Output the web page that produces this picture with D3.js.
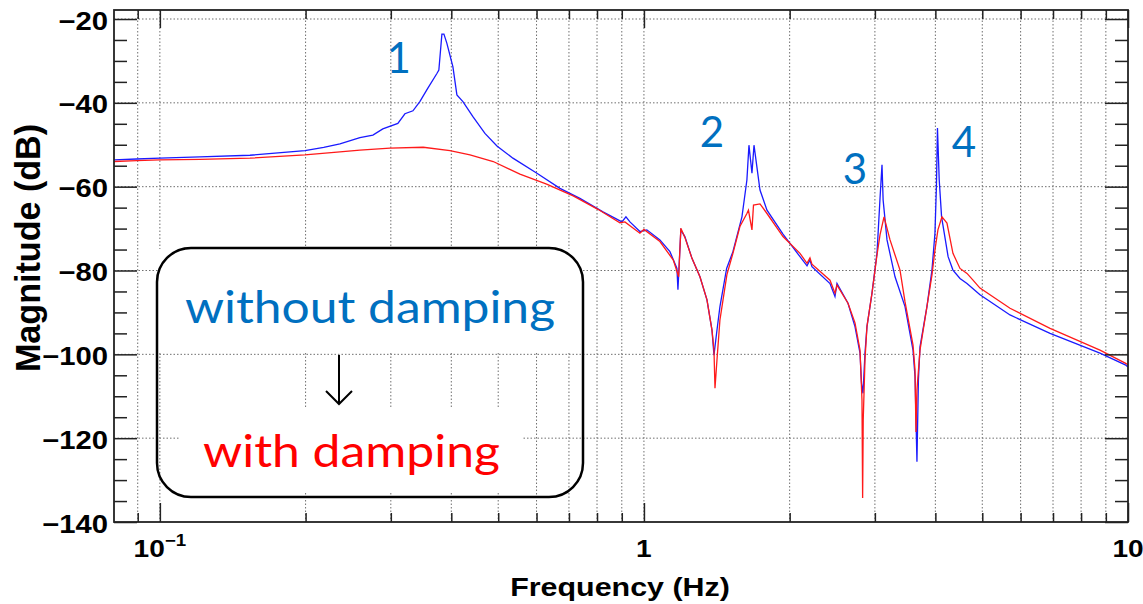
<!DOCTYPE html>
<html>
<head>
<meta charset="utf-8">
<script src="https://cdn.jsdelivr.net/npm/d3@7"></script>
<style>
  body { margin: 0; background: #fff; }
</style>
</head>
<body>
<svg id="drawspace" width="1143" height="604"></svg>
<script>
// transfer function magnitude, Hz / dB
const blueFreq = [0.0804, 0.0896, 0.1, 0.121, 0.1535, 0.1994, 0.218, 0.2355, 0.259, 0.2755,
  0.2888, 0.3102, 0.3208, 0.3333, 0.3444, 0.3578, 0.3735, 0.377, 0.3825, 0.3862,
  0.3917, 0.4031, 0.4108, 0.4227, 0.4433, 0.4694, 0.497, 0.5362, 0.6011, 0.6707,
  0.7375, 0.8229, 0.9006, 0.918, 0.9356, 0.981, 1.014, 1.079, 1.1317, 1.17,
  1.1756, 1.192, 1.215, 1.2567, 1.3054, 1.3497, 1.3822, 1.3954, 1.4155, 1.4355,
  1.482, 1.527, 1.594, 1.632, 1.648, 1.6717, 1.688, 1.7368, 1.7955, 1.9375,
  2.1008, 2.172, 2.2029, 2.2238, 2.4231, 2.4813, 2.5053, 2.6397, 2.729, 2.795,
  2.815, 2.835, 2.862, 2.889, 2.959, 3.03, 3.074, 3.1032, 3.12, 3.178,
  3.3014, 3.4624, 3.5966, 3.6308, 3.6644, 3.69, 3.718, 3.8427, 3.9355, 3.9921,
  4.02, 4.04, 4.074, 4.12, 4.25, 4.349, 4.497, 4.649, 4.9455, 5.7051,
  6.9024, 8.752, 9.87, 10];
const blueMag = [-53.6, -53.4, -53.2, -52.9, -52.5, -51.4, -50.6, -49.8, -48.3, -47.7,
  -46.2, -44.9, -42.6, -41.9, -39.7, -36.5, -33.0, -32.2, -23.6, -23.6,
  -25.8, -31.4, -38.1, -39.7, -43.3, -47.3, -50.3, -53.2, -56.8, -60.4,
  -62.8, -66.0, -68.4, -67.2, -68.4, -70.7, -70.3, -72.7, -75.5, -79.5,
  -84.6, -70.3, -71.9, -77.1, -81.5, -87.0, -94.2, -100.2, -94.2, -88.6,
  -79.5, -75.5, -67.2, -58.4, -50.1, -56.8, -50.1, -60.8, -65.6, -71.3,
  -76.7, -78.9, -77.5, -79.1, -83.1, -86.2, -83.1, -87.8, -93.4, -99.7,
  -106.9, -109.3, -99.7, -93.4, -85.4, -75.9, -62.8, -54.8, -63.2, -72.7,
  -81.5, -88.6, -99.0, -105.3, -125.6, -106.1, -98.2, -88.6, -79.9, -71.1,
  -60.0, -46.0, -58.4, -67.2, -76.7, -79.9, -81.9, -83.1, -85.8, -90.6,
  -95.0, -99.7, -102.5, -103.0];

const redFreq = [0.0804, 0.0896, 0.1, 0.121, 0.1535, 0.1994, 0.2355, 0.259, 0.2987, 0.35,
  0.3975, 0.4372, 0.4883, 0.5544, 0.6295, 0.7143, 0.8035, 0.892, 0.9136, 0.981,
  1.0, 1.079, 1.15, 1.1797, 1.192, 1.215, 1.2567, 1.3054, 1.3497, 1.3822,
  1.3954, 1.4021, 1.4155, 1.4355, 1.484, 1.527, 1.5786, 1.632, 1.644, 1.6717,
  1.684, 1.7368, 1.7955, 1.9375, 2.1008, 2.172, 2.2029, 2.2238, 2.4231, 2.4813,
  2.5053, 2.6397, 2.729, 2.795, 2.8213, 2.83, 2.838, 2.862, 2.889, 2.959,
  3.03, 3.074, 3.1333, 3.224, 3.3806, 3.4624, 3.5966, 3.6308, 3.6475, 3.6644,
  3.718, 3.8427, 3.9355, 3.9921, 4.049, 4.1272, 4.2267, 4.349, 4.497, 4.6493,
  4.7841, 4.9455, 5.7051, 6.9024, 8.752, 9.87, 10];
const redMag = [-54.0, -53.8, -53.6, -53.5, -53.2, -52.4, -51.7, -51.3, -50.8, -50.6,
  -51.4, -52.4, -54.0, -57.0, -59.4, -62.2, -65.4, -68.6, -68.4, -71.1,
  -70.2, -73.1, -77.5, -81.5, -69.9, -72.1, -77.1, -81.5, -87.0, -94.2,
  -99.0, -108.1, -101.3, -91.8, -81.0, -75.9, -69.5, -66.4, -65.6, -70.3,
  -64.4, -64.1, -66.4, -71.9, -75.9, -78.3, -77.0, -78.5, -82.3, -85.4,
  -83.5, -87.8, -92.5, -99.0, -110.9, -134.3, -115.7, -101.3, -93.4, -85.4,
  -76.3, -71.5, -67.2, -72.7, -79.9, -87.5, -97.8, -103.7, -118.5, -108.5,
  -99.0, -88.6, -81.1, -75.1, -70.3, -67.2, -68.7, -75.9, -79.5, -80.7,
  -82.3, -84.2, -89.0, -93.8, -99.0, -102.1, -102.5];

const yMajorTicks = [-140, -120, -100, -80, -60, -40, -20];
const xMajorTicks = [0.1, 1, 10];
const xMinorTicks = [0.09, 0.2, 0.3, 0.4, 0.5, 0.6, 0.7, 0.8, 0.9, 2, 3, 4, 5, 6, 7, 8, 9];
const peakNames = ["1", "2", "3", "4"];

let drawSpace = d3.select("#drawspace");

// frame of the plot
let frameL = 114, frameR = 1128, frameT = 10, frameB = 522;

let xScale = d3.scaleLog().domain([0.0804, 10]).range([frameL, frameR]);
let yScale = d3.scaleLinear().domain([-140, -17.85]).range([frameB, frameT]);

let sx = 1.17; // the original picture is a bit stretched sideways

// grid
drawSpace.append("g")
  .selectAll("line")
  .data(xMajorTicks.concat(xMinorTicks).filter((d) => d < 10))
  .join("line")
  .attr("x1", (d) => xScale(d))
  .attr("x2", (d) => xScale(d))
  .attr("y1", frameT)
  .attr("y2", frameB)
  .attr("stroke", "#6f6f6f")
  .attr("stroke-width", 1)
  .attr("stroke-dasharray", "1.5,2");

drawSpace.append("g")
  .selectAll("line")
  .data(yMajorTicks.filter((d) => d > -140))
  .join("line")
  .attr("x1", frameL)
  .attr("x2", frameR)
  .attr("y1", (d) => yScale(d))
  .attr("y2", (d) => yScale(d))
  .attr("stroke", "#6f6f6f")
  .attr("stroke-width", 1)
  .attr("stroke-dasharray", "1.5,2");

// curves
drawSpace.append("clipPath")
  .attr("id", "frameclip")
  .append("rect")
  .attr("x", frameL)
  .attr("y", frameT)
  .attr("width", frameR - frameL)
  .attr("height", frameB - frameT);

let line = d3.line()
  .x((d) => xScale(d[0]))
  .y((d) => yScale(d[1]));

let blueData = blueFreq.map((f, i) => [f, blueMag[i]]);
let redData = redFreq.map((f, i) => [f, redMag[i]]);

drawSpace.append("path")
  .datum(blueData)
  .attr("clip-path", "url(#frameclip)")
  .attr("fill", "none")
  .attr("stroke", "#1a1aff")
  .attr("stroke-width", 1.3)
  .attr("d", line);

drawSpace.append("path")
  .datum(redData)
  .attr("clip-path", "url(#frameclip)")
  .attr("fill", "none")
  .attr("stroke", "#ff1a1a")
  .attr("stroke-width", 1.3)
  .attr("d", line);

// ticks on all four sides, pointing inwards
let yMinorTicks = d3.range(-135, -19, 5).filter((d) => d % 20 !== 0);

function tickAxis(axis, transform) {
  let g = drawSpace.append("g").attr("transform", transform).call(axis);
  g.select(".domain").remove();
  g.selectAll("line").attr("stroke", "#222").attr("stroke-width", 1.5);
  return g;
}

tickAxis(d3.axisLeft(yScale).tickValues(yMajorTicks).tickSize(-23).tickFormat(""), `translate(${frameL},0)`);
tickAxis(d3.axisLeft(yScale).tickValues(yMinorTicks).tickSize(-13).tickFormat(""), `translate(${frameL},0)`);
tickAxis(d3.axisRight(yScale).tickValues(yMajorTicks).tickSize(-23).tickFormat(""), `translate(${frameR},0)`);
tickAxis(d3.axisRight(yScale).tickValues(yMinorTicks).tickSize(-13).tickFormat(""), `translate(${frameR},0)`);
tickAxis(d3.axisBottom(xScale).tickValues(xMajorTicks).tickSize(-19).tickFormat(""), `translate(0,${frameB})`);
tickAxis(d3.axisBottom(xScale).tickValues(xMinorTicks).tickSize(-9).tickFormat(""), `translate(0,${frameB})`);
tickAxis(d3.axisTop(xScale).tickValues(xMajorTicks).tickSize(-18).tickFormat(""), `translate(0,${frameT})`);
tickAxis(d3.axisTop(xScale).tickValues(xMinorTicks).tickSize(-9).tickFormat(""), `translate(0,${frameT})`);

drawSpace.append("rect")
  .attr("x", frameL)
  .attr("y", frameT)
  .attr("width", frameR - frameL)
  .attr("height", frameB - frameT)
  .attr("fill", "none")
  .attr("stroke", "#222")
  .attr("stroke-width", 1.8);

// tick labels
let axisFont = "'Liberation Sans', Arial, sans-serif";

drawSpace.append("g")
  .selectAll("text")
  .data(yMajorTicks)
  .join("text")
  .attr("transform", (d) => `translate(108,${yScale(d) + 10.5}) scale(${sx},1)`)
  .attr("text-anchor", "end")
  .attr("font-family", axisFont)
  .attr("font-weight", "bold")
  .attr("font-size", 25)
  .text((d) => d < 0 ? "\u2212" + Math.abs(d) : d);

let xLab = drawSpace.append("g")
  .selectAll("text")
  .data(xMajorTicks)
  .join("text")
  .attr("transform", (d) => `translate(${xScale(d)},557) scale(${sx},1)`)
  .attr("text-anchor", "middle")
  .attr("font-family", axisFont)
  .attr("font-weight", "bold")
  .attr("font-size", 24);

xLab.each(function (d) {
  let t = d3.select(this);
  if (d < 1) {
    t.append("tspan").text("10");
    t.append("tspan").attr("font-size", 16).attr("dy", -11).text("\u2212" + Math.round(-Math.log10(d)));
  } else {
    t.text(d);
  }
});

// axis titles
drawSpace.append("text")
  .attr("transform", `translate(620,596) scale(${sx},1)`)
  .attr("text-anchor", "middle")
  .attr("font-family", axisFont)
  .attr("font-weight", "bold")
  .attr("font-size", 26)
  .text("Frequency (Hz)");

drawSpace.append("text")
  .attr("transform", "translate(40,248) rotate(-90) scale(1.1,1.12)")
  .attr("text-anchor", "middle")
  .attr("font-family", axisFont)
  .attr("font-weight", "bold")
  .attr("font-size", 31)
  .text("Magnitude (dB)");

// mode numbers over the peaks
let peakSpots = [[0.3115, -32.9], [1.382, -50.5], [2.729, -59.4], [4.584, -52.9]];
drawSpace.append("g")
  .selectAll("text")
  .data(peakNames)
  .join("text")
  .attr("x", (d, i) => xScale(peakSpots[i][0]))
  .attr("y", (d, i) => yScale(peakSpots[i][1]))
  .attr("text-anchor", "middle")
  .attr("font-family", "Lato, 'Open Sans', sans-serif")
  .attr("font-size", 42)
  .attr("fill", "#0070c0")
  .text((d) => d);

// legend box
let legend = drawSpace.append("g");
legend.append("rect")
  .attr("x", 158).attr("y", 249).attr("width", 424).attr("height", 104)
  .attr("fill", "#fff");
legend.append("rect")
  .attr("x", 180).attr("y", 407).attr("width", 343).attr("height", 84)
  .attr("fill", "#fff");
legend.append("rect")
  .attr("x", 157).attr("y", 248).attr("width", 426).attr("height", 249)
  .attr("rx", 34)
  .attr("fill", "none")
  .attr("stroke", "#000")
  .attr("stroke-width", 2.5);

legend.append("text")
  .attr("x", 185).attr("y", 323)
  .attr("textLength", 370)
  .attr("lengthAdjust", "spacingAndGlyphs")
  .attr("font-family", "Lato, 'Open Sans', sans-serif")
  .attr("font-size", 45)
  .attr("fill", "#0070c0")
  .text("without damping");

legend.append("text")
  .attr("x", 203).attr("y", 467)
  .attr("textLength", 297)
  .attr("lengthAdjust", "spacingAndGlyphs")
  .attr("font-family", "Lato, 'Open Sans', sans-serif")
  .attr("font-size", 45)
  .attr("fill", "#ff0000")
  .text("with damping");

legend.append("path")
  .attr("d", "M339,355 L339,404 M326,391 L339,404 L352,391")
  .attr("fill", "none")
  .attr("stroke", "#000")
  .attr("stroke-width", 2);
</script>
</body>
</html>
